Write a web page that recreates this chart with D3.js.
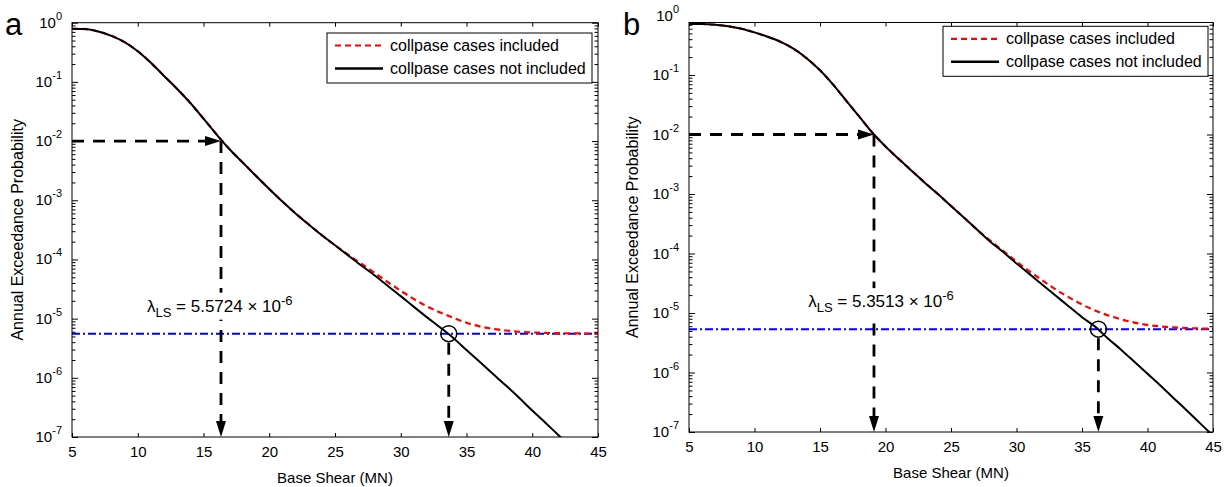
<!DOCTYPE html>
<html lang="en">
<head>
<meta charset="UTF-8">
<title>Annual exceedance probability vs base shear</title>
<style>
  body{margin:0;background:#fff;}
  svg{display:block;font-family:"Liberation Sans",Arial,Helvetica,sans-serif;}
  .tick line{stroke:#000;stroke-width:1px;}
  .tick text{font-size:15px;fill:#000;font-family:"Liberation Sans",Arial,sans-serif;}
</style>
<script src="https://cdn.jsdelivr.net/npm/d3@7"></script>
</head>
<body>
<div id="container"></div>
<script>
// base shear (MN) at which the curves were read
const shear = [5,6,7,8,9,10,11,12,13,14,15,16,17,18,19,20,21,22,23,24,25,
               26,27,28,29,30,31,32,33,34,35,36,37,38,39,40,41,42,43,44,45];

// panel a
const aIncluded = [7.9e-1,7.8e-1,7.1e-1,6.0e-1,4.7e-1,3.3e-1,2.1e-1,1.26e-1,7.6e-2,4.4e-2,2.4e-2,
                   1.29e-2,7.2e-3,4.3e-3,2.57e-3,1.55e-3,9.5e-4,6.0e-4,3.9e-4,2.57e-4,1.74e-4,
                   1.2e-4,8.46e-5,5.96e-5,4.16e-5,2.96e-5,2.14e-5,1.61e-5,1.27e-5,1.03e-5,8.5e-6,
                   7.4e-6,6.7e-6,6.3e-6,6.0e-6,5.85e-6,5.74e-6,5.68e-6,5.64e-6,5.61e-6,5.6e-6];
const aNotIncluded = [7.9e-1,7.8e-1,7.1e-1,6.0e-1,4.7e-1,3.3e-1,2.1e-1,1.26e-1,7.6e-2,4.4e-2,2.4e-2,
                      1.29e-2,7.2e-3,4.3e-3,2.57e-3,1.55e-3,9.5e-4,6.0e-4,3.9e-4,2.57e-4,1.74e-4,
                      1.17e-4,7.9e-5,5.4e-5,3.6e-5,2.4e-5,1.58e-5,1.05e-5,7.1e-6,4.7e-6,2.95e-6,
                      1.86e-6,1.17e-6,7.4e-7,4.6e-7,2.8e-7,1.74e-7,1.07e-7,6.6e-8];

// panel b
const bIncluded = [7.2e-1,7.2e-1,7.0e-1,6.6e-1,6.0e-1,5.2e-1,4.4e-1,3.6e-1,2.75e-1,1.9e-1,1.2e-1,
                   6.9e-2,3.7e-2,2.0e-2,1.07e-2,6.3e-3,3.9e-3,2.45e-3,1.55e-3,1.0e-3,6.3e-4,
                   4.0e-4,2.5e-4,1.64e-4,1.10e-4,7.3e-5,5.0e-5,3.49e-5,2.48e-5,1.83e-5,1.39e-5,
                   1.10e-5,9.1e-6,7.8e-6,6.9e-6,6.3e-6,5.95e-6,5.72e-6,5.58e-6,5.49e-6,5.44e-6];
const bNotIncluded = [7.2e-1,7.2e-1,7.0e-1,6.6e-1,6.0e-1,5.2e-1,4.4e-1,3.6e-1,2.75e-1,1.9e-1,1.2e-1,
                      6.9e-2,3.7e-2,2.0e-2,1.07e-2,6.3e-3,3.9e-3,2.45e-3,1.55e-3,1.0e-3,6.3e-4,
                      4.0e-4,2.5e-4,1.58e-4,1.05e-4,6.8e-5,4.5e-5,2.95e-5,1.95e-5,1.29e-5,8.5e-6,
                      5.9e-6,3.7e-6,2.4e-6,1.51e-6,9.5e-7,6.0e-7,3.7e-7,2.3e-7,1.41e-7,8.7e-8];

const lambdaLS = [5.5724e-6, 5.3513e-6];
const targetProb = 1e-2;
const hazardShear = [16.33, 19.12];   // curve meets 1e-2
const limitShear = [33.65, 36.25];    // curve meets lambda_LS
const xTicks = [5,10,15,20,25,30,35,40,45];
const yDecades = [-7,-6,-5,-4,-3,-2,-1,0];
const legendLabels = ["collpase cases included", "collpase cases not included"];
const panelLetters = ["a", "b"];

const W = 1225, H = 487;
const svg = d3.select("#container").append("svg")
    .attr("width", W).attr("height", H)
    .attr("viewBox", `0 0 ${W} ${H}`);
svg.append("rect").attr("width", W).attr("height", H).attr("fill", "#fff");

const panels = [
  {x0:72, x1:598, top:22.7, bottom:437, yZero:22.7, legX:327, legY:33, noteX:10.7,
   inc:aIncluded, notInc:aNotIncluded, letterX:5, ylabX:23},
  {x0:689, x1:1213, top:22.5, bottom:432, yZero:15.5, legX:943, legY:26.3, noteX:14.1,
   inc:bIncluded, notInc:bNotIncluded, letterX:623, ylabX:638}
];

const minorTicks = [];
yDecades.slice(0, -1).forEach(d => {
  [2,3,4,5,6,7,8,9].forEach(m => minorTicks.push(m * Math.pow(10, d)));
});

panels.forEach((p, i) => {
  const x = d3.scaleLinear().domain([5, 45]).range([p.x0, p.x1]);
  const y = d3.scaleLog().domain([1e-7, 1]).range([p.bottom, p.yZero]);
  const g = svg.append("g");

  const clipId = "clip" + i;
  svg.append("clipPath").attr("id", clipId).append("rect")
      .attr("x", p.x0).attr("y", p.top)
      .attr("width", p.x1 - p.x0).attr("height", p.bottom - p.top);

  // lambda_LS level
  g.append("line")
      .attr("x1", x(5)).attr("x2", x(45))
      .attr("y1", y(lambdaLS[i])).attr("y2", y(lambdaLS[i]))
      .attr("stroke", "#0000ff").attr("stroke-width", 2)
      .attr("stroke-dasharray", "8,3,2,3");

  const line = d3.line()
      .x((d, k) => x(shear[k]))
      .y(d => y(d))
      .curve(d3.curveMonotoneX);

  const curves = g.append("g").attr("clip-path", `url(#${clipId})`);
  curves.append("path").datum(p.inc)
      .attr("d", line).attr("fill", "none")
      .attr("stroke", "#ff0000").attr("stroke-width", 2.2)
      .attr("stroke-dasharray", "6,4");
  curves.append("path").datum(p.notInc)
      .attr("d", line).attr("fill", "none")
      .attr("stroke", "#000").attr("stroke-width", 2);

  // arrows
  const arr = g.append("g");
  const dash = "12,9";
  const hx = x(hazardShear[i]), hy = y(targetProb);
  arr.append("line").attr("x1", x(5)).attr("x2", hx - 16)
      .attr("y1", hy).attr("y2", hy)
      .attr("stroke", "#000").attr("stroke-width", 2.8).attr("stroke-dasharray", dash);
  arr.append("path").attr("d", `M${hx},${hy}L${hx-16},${hy-5}L${hx-16},${hy+5}Z`).attr("fill", "#000");
  arr.append("line").attr("x1", hx).attr("x2", hx)
      .attr("y1", hy).attr("y2", p.bottom - 16)
      .attr("stroke", "#000").attr("stroke-width", 2.8).attr("stroke-dasharray", dash);
  arr.append("path").attr("d", `M${hx},${p.bottom}L${hx-5},${p.bottom-16}L${hx+5},${p.bottom-16}Z`).attr("fill", "#000");

  const cx = x(limitShear[i]), cy = y(lambdaLS[i]);
  arr.append("circle").attr("cx", cx).attr("cy", cy).attr("r", 8)
      .attr("fill", "none").attr("stroke", "#000").attr("stroke-width", 1.5);
  arr.append("line").attr("x1", cx).attr("x2", cx)
      .attr("y1", cy + 9).attr("y2", p.bottom - 16)
      .attr("stroke", "#000").attr("stroke-width", 2.8).attr("stroke-dasharray", dash);
  arr.append("path").attr("d", `M${cx},${p.bottom}L${cx-5},${p.bottom-16}L${cx+5},${p.bottom-16}Z`).attr("fill", "#000");

  // lambda label
  const noteG = g.append("g");
  const note = noteG.append("text")
      .attr("x", x(p.noteX)).attr("y", y(lambdaLS[i]) - 22)
      .style("font-size", "17px").attr("fill", "#000");
  note.append("tspan").text("\u03bb");
  note.append("tspan").attr("dy", 5).style("font-size", "13px").text("LS");
  note.append("tspan").attr("dy", -5).text(` = ${(lambdaLS[i] / 1e-6).toFixed(4)} \u00d7 10`);
  note.append("tspan").attr("dy", -7).style("font-size", "13px").text("-6");
  const bb = note.node().getBBox();
  noteG.insert("rect", "text")
      .attr("x", bb.x - 2).attr("y", bb.y).attr("width", bb.width + 4).attr("height", bb.height)
      .attr("fill", "#fff");

  // box
  g.append("rect").attr("x", p.x0).attr("y", p.top)
      .attr("width", p.x1 - p.x0).attr("height", p.bottom - p.top)
      .attr("fill", "none").attr("stroke", "#000").attr("stroke-width", 1);

  // x axes
  const xb = g.append("g").attr("transform", `translate(0,${p.bottom})`)
      .call(d3.axisBottom(x).tickValues(xTicks).tickSize(-4).tickPadding(9).tickSizeOuter(0));
  xb.select(".domain").remove();
  const xt = g.append("g").attr("transform", `translate(0,${p.top})`)
      .call(d3.axisTop(x).tickValues(xTicks).tickSize(-4).tickFormat("").tickSizeOuter(0));
  xt.select(".domain").remove();

  // y axes (major + minor, inward on both sides)
  const majors = yDecades.map(d => Math.pow(10, d)).filter(v => y(v) >= p.top - 0.5);
  const minors = minorTicks.filter(v => y(v) >= p.top);
  [[d3.axisLeft, p.x0], [d3.axisRight, p.x1]].forEach(([ax, tx]) => {
    const a1 = g.append("g").attr("transform", `translate(${tx},0)`)
        .call(ax(y).tickValues(majors).tickSize(-6).tickFormat("").tickSizeOuter(0));
    a1.select(".domain").remove();
    const a2 = g.append("g").attr("transform", `translate(${tx},0)`)
        .call(ax(y).tickValues(minors).tickSize(-3.5).tickFormat("").tickSizeOuter(0));
    a2.select(".domain").remove();
  });

  // y tick labels 10^k
  yDecades.forEach(d => {
    const t = g.append("text")
        .attr("x", p.x0 - 10).attr("y", y(Math.pow(10, d)) + 5)
        .attr("text-anchor", "end").style("font-size", "15px");
    t.append("tspan").text("10");
    t.append("tspan").attr("dy", -8).style("font-size", "11px").text(String(d));
  });

  // axis titles
  g.append("text").attr("x", (p.x0 + p.x1) / 2).attr("y", p.bottom + 46)
      .attr("text-anchor", "middle").style("font-size", "15px").text("Base Shear (MN)");
  g.append("text")
      .attr("transform", `translate(${p.ylabX},${(p.top + p.bottom) / 2}) rotate(-90)`)
      .attr("text-anchor", "middle").style("font-size", "16px")
      .text("Annual Exceedance Probability");

  // panel letter
  g.append("text").attr("x", p.letterX).attr("y", 35)
      .style("font-size", "31px").text(panelLetters[i]);

  // legend
  const leg = g.append("g").attr("transform", `translate(${p.legX},${p.legY})`);
  leg.append("rect").attr("width", 265).attr("height", 50)
      .attr("fill", "#fff").attr("stroke", "#000").attr("stroke-width", 1);
  legendLabels.forEach((lab, k) => {
    const ly = 12.5 + k * 23;
    leg.append("line").attr("x1", 8).attr("x2", 56).attr("y1", ly).attr("y2", ly)
        .attr("stroke", k === 0 ? "#ff0000" : "#000")
        .attr("stroke-width", k === 0 ? 2.2 : 2.6)
        .attr("stroke-dasharray", k === 0 ? "6,4" : null);
    leg.append("text").attr("x", 63).attr("y", ly + 5.5)
        .style("font-size", "16px").text(lab);
  });
});
</script>
</body>
</html>
